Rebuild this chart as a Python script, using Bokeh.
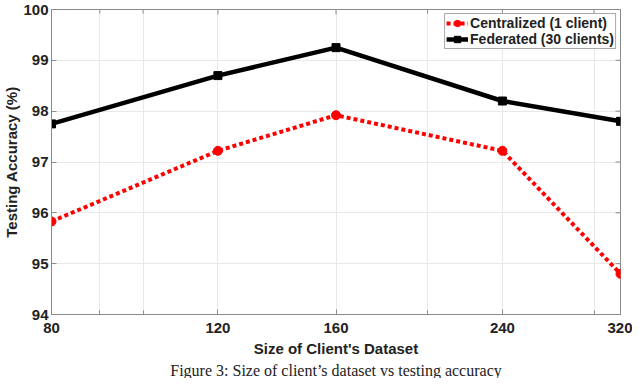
import math
from bokeh.plotting import figure
from bokeh.models import Range1d, FixedTicker, NumeralTickFormatter, Title
from bokeh.embed import file_html
from bokeh.resources import INLINE

# ---- data ----
dataset_size = [80, 120, 160, 240, 320]
centralized = [95.83, 97.22, 97.92, 97.22, 94.80]
federated = [97.75, 98.70, 99.25, 98.20, 97.80]
x_ticks = [80, 120, 160, 240, 320]
x_minor = [90, 100, 200, 300]
y_ticks = [94, 95, 96, 97, 98, 99, 100]

FONT = "Liberation Sans"
AX = "#8a8a8a"
TXT = "#222222"

x_lo, x_hi = min(x_ticks), max(x_ticks)
y_lo, y_hi = min(y_ticks), max(y_ticks)

p = figure(width=632, height=378, x_axis_type="log",
           x_range=Range1d(x_lo, x_hi), y_range=Range1d(y_lo, y_hi),
           output_backend="svg", toolbar_location=None,
           min_border_left=41, min_border_right=12, min_border_top=9, min_border_bottom=0)
p.background_fill_color = "white"
p.border_fill_color = "white"
p.outline_line_color = AX
p.outline_line_width = 1

xt = FixedTicker(ticks=x_ticks, minor_ticks=x_minor)
yt = FixedTicker(ticks=y_ticks)
p.xaxis.ticker = xt
p.yaxis.ticker = yt
p.xgrid.ticker = xt
p.ygrid.ticker = yt
for g in (p.xgrid, p.ygrid):
    g.grid_line_color = "#e8e8e8"
    g.grid_line_width = 1
p.xgrid.minor_grid_line_color = "#e8e8e8"

for ax in p.xaxis + p.yaxis:
    ax.axis_line_color = AX
    ax.major_tick_line_color = AX
    ax.minor_tick_line_color = AX
    ax.major_tick_in = 5
    ax.major_tick_out = 0
    ax.minor_tick_in = 4
    ax.minor_tick_out = 0
    ax.major_label_text_font = FONT
    ax.major_label_text_font_style = "bold"
    ax.major_label_text_font_size = "15px"
    ax.major_label_text_color = TXT
    ax.axis_label_text_font = FONT
    ax.axis_label_text_font_style = "bold"
    ax.axis_label_text_font_size = "15px"
    ax.axis_label_text_color = TXT
p.yaxis.minor_tick_line_color = None

p.xaxis.formatter = NumeralTickFormatter(format="0")
p.xaxis.axis_label = "Size of Client's Dataset"
p.yaxis.axis_label = "Testing Accuracy (%)"
p.xaxis.major_label_standoff = 8
p.xaxis.axis_label_standoff = 4
p.yaxis.major_label_standoff = 3
p.yaxis.axis_label_standoff = 0

# inward tick marks on the top and right edges of the box
p.scatter(x_ticks, [y_hi] * len(x_ticks), marker="dash", angle=math.pi / 2, size=10,
          line_color=AX, line_width=1)
p.scatter(x_minor, [y_hi] * len(x_minor), marker="dash", angle=math.pi / 2, size=8,
          line_color=AX, line_width=1)
p.scatter([x_hi] * len(y_ticks), y_ticks, marker="dash", size=10,
          line_color=AX, line_width=1)

# ---- series ----
p.line(dataset_size, centralized, line_color="#ff0000", line_width=4, line_dash="4 3",
       legend_label="Centralized (1 client)")
p.scatter(dataset_size, centralized, marker="circle", size=9, fill_color="#ff0000",
          line_color="#ff0000", legend_label="Centralized (1 client)")
p.line(dataset_size, federated, line_color="black", line_width=4.5,
       legend_label="Federated (30 clients)")
p.scatter(dataset_size, federated, marker="square", size=8, fill_color="black",
          line_color="black", legend_label="Federated (30 clients)")

lg = p.legend[0]
lg.location = "top_right"
lg.margin = 4
lg.padding = 1
lg.spacing = 0
lg.label_height = 16
lg.glyph_height = 16
lg.glyph_width = 22
lg.label_standoff = 2
lg.label_text_font = FONT
lg.label_text_font_style = "bold"
lg.label_text_font_size = "14px"
lg.label_text_color = TXT
lg.border_line_color = "#555555"
lg.border_line_width = 1
lg.background_fill_color = "white"
lg.background_fill_alpha = 1

cap = Title(text="Figure 3: Size of client\u2019s dataset vs testing accuracy", align="center",
            text_font="Liberation Serif", text_font_size="16px", text_font_style="normal",
            text_color="#222222", standoff=0)
p.add_layout(cap, "below")

open("out.html", "w").write(file_html(p, INLINE))
